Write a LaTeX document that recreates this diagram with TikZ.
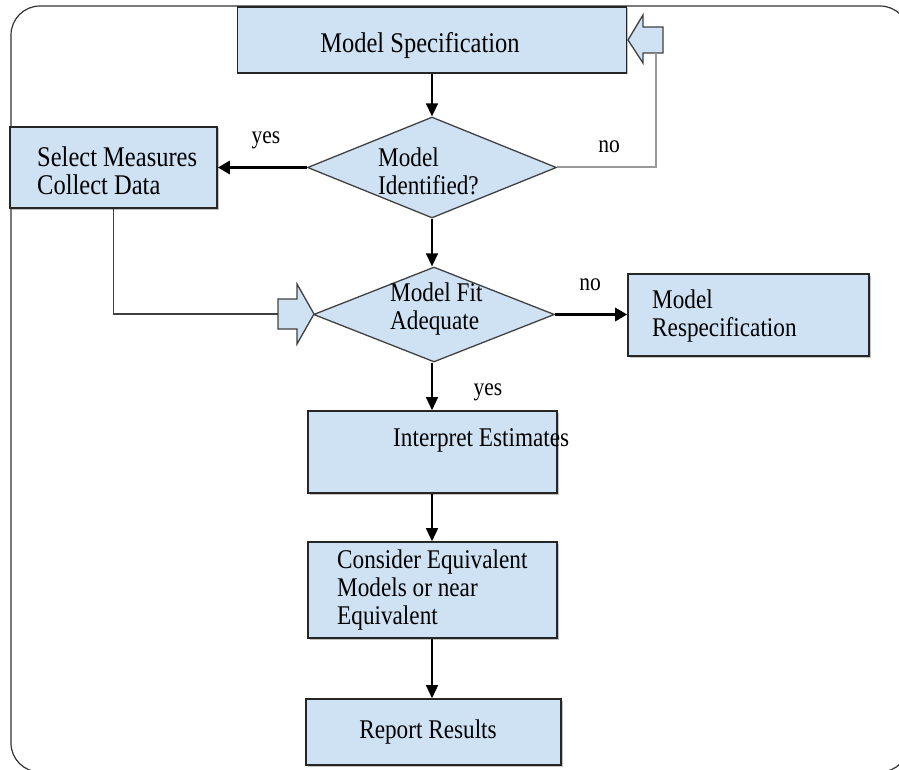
\documentclass[tikz,border=0pt]{standalone}
\usepackage{fontspec}
\setmainfont[FakeStretch=0.86]{Liberation Serif}
\usetikzlibrary{arrows.meta,shapes.geometric,shadows}
\definecolor{boxblue}{HTML}{CFE2F3}
\begin{document}
\begin{tikzpicture}[x=1pt,y=-1pt,
  every node/.style={font=\fontsize{27}{28}\selectfont},
  box/.style={draw=black!85,line width=1.6pt,fill=boxblue,inner sep=0pt,
    drop shadow={shadow xshift=1.5pt,shadow yshift=-1.5pt,fill=black!40,opacity=0.6}},
  dia/.style={shape=diamond,draw=black!75,line width=1.3pt,fill=boxblue,inner sep=0pt},
  txt/.style={inner sep=0pt,align=left,anchor=west},
  big/.style={font=\fontsize{28.5}{28}\selectfont},
  lbl/.style={inner sep=0pt,font=\fontsize{25}{26}\selectfont},
  arr/.style={line width=1.5pt,black,-{Triangle[length=13pt,width=12pt]}},
  thickarr/.style={line width=3pt,black,-{Triangle[length=12pt,width=13pt]}},
  hollow/.style={draw=black!75,line width=1.3pt,fill=boxblue,line join=miter},
  frame/.style={draw=black!80,line width=1.2pt,rounded corners=29pt}]
\useasboundingbox (0,0) rectangle (899,770);
\clip (0,0) rectangle (899,770);
\draw[frame] (11,6) rectangle (909,772);

% boxes
\node[box,minimum width=389pt,minimum height=66pt] (spec) at (432,40) {};
\node[inner sep=0pt,big] (specT) at (420,46) {Model Specification};

\node[box,minimum width=207pt,minimum height=81pt] (select) at (113.5,167.5) {};
\node[txt,big] (selectT) at (37,171) {Select Measures\\Collect Data};

\node[dia,minimum width=249pt,minimum height=101pt] (d1) at (432,167.5) {};
\node[txt] (d1T) at (378,171) {Model\\Identified?};

\node[dia,minimum width=241pt,minimum height=95pt] (d2) at (434,314.5) {};
\node[txt] (d2T) at (390,309) {Model Fit\\Adequate};

\node[box,minimum width=241pt,minimum height=82pt] (respec) at (748.5,315) {};
\node[txt] (respecT) at (652,316) {Model\\Respecification};

\node[box,minimum width=249pt,minimum height=82pt] (interp) at (432.5,452) {};
\node[txt] (interpT) at (393,440) {Interpret Estimates};

\node[box,minimum width=249pt,minimum height=96pt] (consider) at (432.5,590) {};
\node[txt] (considerT) at (337,590) {Consider Equivalent\\Models or near\\Equivalent};

\node[box,minimum width=255pt,minimum height=66pt] (report) at (433.5,732) {};
\node[inner sep=0pt] (reportT) at (428,732) {Report Results};

% hollow block arrows
\draw[hollow] (628,40) -- (643,15) -- (643,27) -- (663,27) -- (663,53) -- (643,53) -- (643,63) -- cycle;
\coordinate (fb1) at (656,53);
\draw[hollow] (314,314) -- (297,284) -- (297,299) -- (278,299) -- (278,329) -- (297,329) -- (297,344) -- cycle;
\coordinate (fb2) at (278,314);

% labels
\node[lbl] (yes1) at (266,140) {yes};
\node[lbl] (no1) at (609,147) {no};
\node[lbl] (no2) at (590,285) {no};
\node[lbl] (yes2) at (488,392) {yes};

% connectors
\draw[arr] (spec.south -| d1.north) -- (d1.north);
\draw[thickarr] (d1.west) -- (select.east);
\draw[line width=2pt,black!40] (d1.east) -| (fb1);
\draw[arr] (d1.south) -- (d1.south |- d2.north);
\draw[line width=1.2pt,black!75] (select.south) |- (fb2);
\draw[thickarr] (d2.east) -- (d2.east -| respec.west);
\draw[arr] (d2.south -| d1.south) -- (d1.south |- interp.north);
\draw[arr] (d1.south |- interp.south) -- (d1.south |- consider.north);
\draw[arr] (d1.south |- consider.south) -- (d1.south |- report.north);
\end{tikzpicture}
\end{document}
